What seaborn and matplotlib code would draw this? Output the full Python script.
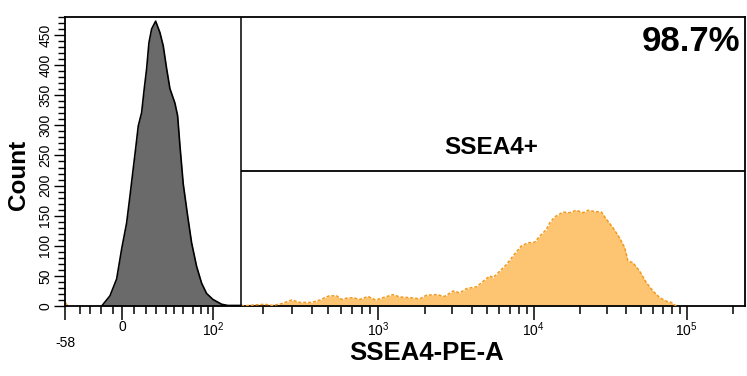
import numpy as np
import matplotlib
matplotlib.use("Agg")
import matplotlib.pyplot as plt
import seaborn as sns

# ---------------- data ----------------
gray_x = [-19.4, -12.5, -5.9, -0.3, 3.9, 6.7, 9.4, 11.4, 13.6, 16.4, 18.6, 20.7, 23.0,
          25.7, 29.7, 34.0, 37.3, 40.9, 45.0, 51.1, 54.1, 56.7, 60.3, 64.7, 68.7, 74.6,
          81.0, 88.1, 100.0, 113.0, 123.0, 150.0]
gray_count = [0, 17, 45, 95, 138, 183, 228, 261, 299, 321, 361, 394, 437,
              460, 473, 454, 432, 394, 361, 337, 316, 266, 203, 150, 105, 66,
              38, 21, 11, 3, 1, 1]

orange_x = [148, 156, 180, 207, 231, 261, 300, 337, 396, 445, 507, 562, 603, 646, 708,
            778, 873, 972, 1081, 1254, 1383, 1604, 1859, 2052, 2379, 2687, 3039, 3356,
            3707, 4298, 4735, 5227, 5495, 6058, 6686, 7370, 8337, 9190, 10150, 10940,
            12100, 12730, 13720, 15560, 17200, 19010, 21000, 22650, 25050, 27720, 29880,
            32990, 36480, 39340, 41320, 44560, 49290, 54480, 60230, 66620, 73640, 79430,
            85570]
orange_count = [0, 0.5, 2, 3, 1, 4, 10, 6, 6, 10, 17, 17, 11, 13, 14,
                11, 16, 10, 14, 19, 15, 14, 12, 18, 19, 16, 25, 22,
                29, 32, 41, 50, 47, 58, 69, 83, 100, 105, 106, 116,
                127, 138, 148, 156, 155, 159, 155, 159, 157, 156, 144,
                130, 113, 97, 75, 72, 58, 39, 25, 14, 8, 6,
                0]

edge_x = [-58, -56, -54]
edge_count = [8, 5, 0]

gate_x = 148
gate_y = 224
gate_label = "SSEA4+"
gate_pct = "98.7%"

x_major = [-58, 0, 100, 1e3, 1e4, 1e5]
x_major_labels = ["\n-58", "0", r"$10^2$", r"$10^3$", r"$10^4$", r"$10^5$"]
x_minor = ([-40, -30, -20, -10] + list(range(10, 100, 10)) +
           [m * d for d in (100, 1000, 10000) for m in range(2, 10)] + [2e5])
y_major = list(range(0, 451, 50))
y_minor = list(range(0, 481, 10))

# ---------------- biexponential-like display scale ----------------
LIN_V = np.array([-58, -40, -30, -20, -10, 0, 10, 20, 30, 40, 50, 60, 70, 80, 90, 100], float)
LIN_P = np.array([0, 15, 25, 36, 48, 57, 69, 81, 91, 101, 109, 118, 128, 136, 143, 148], float)
LOG_D = np.array([2, 3, 4, 5], float)
LOG_P = np.array([148, 313, 469, 622], float)
S0 = (LIN_P[1] - LIN_P[0]) / (LIN_V[1] - LIN_V[0])
S1 = 153.0


def fwd(v):
    v = np.asarray(v, dtype=float)
    lin = np.interp(v, LIN_V, LIN_P)
    lin = np.where(v < LIN_V[0], LIN_P[0] + (v - LIN_V[0]) * S0, lin)
    with np.errstate(all="ignore"):
        lv = np.log10(np.clip(v, 100, None))
    lg = np.interp(lv, LOG_D, LOG_P)
    lg = np.where(lv > LOG_D[-1], LOG_P[-1] + (lv - LOG_D[-1]) * S1, lg)
    return np.where(v <= 100, lin, lg)


def inv(p):
    p = np.asarray(p, dtype=float)
    lin = np.interp(p, LIN_P, LIN_V)
    lin = np.where(p < LIN_P[0], LIN_V[0] + (p - LIN_P[0]) / S0, lin)
    ld = np.interp(p, LOG_P, LOG_D)
    ld = np.where(p > LOG_P[-1], LOG_D[-1] + (p - LOG_P[-1]) / S1, ld)
    with np.errstate(all="ignore"):
        lg = 10.0 ** np.clip(ld, -10, 12)
    return np.where(p <= LOG_P[0], lin, lg)


# ---------------- drawing ----------------
sns.set_theme(style="white")
plt.rcParams["font.family"] = ["Liberation Sans", "DejaVu Sans"]
plt.rcParams["mathtext.fontset"] = "custom"
plt.rcParams["mathtext.rm"] = "Liberation Sans"
plt.rcParams["mathtext.it"] = "Liberation Sans"
for key in ("text.color", "axes.labelcolor", "xtick.color", "ytick.color"):
    plt.rcParams[key] = "black"

fig = plt.figure(figsize=(7.47, 3.76), dpi=100)
ax = fig.add_axes([0.087, 0.186, 0.910, 0.769])
ax.set_xscale("function", functions=(fwd, inv))

ax.fill_between(gray_x, gray_count, 0, color="#6a6a6a", linewidth=0, zorder=2)
sns.lineplot(x=gray_x, y=gray_count, color="black", linewidth=1.2, ax=ax,
             estimator=None, sort=False, zorder=3)

ax.fill_between(orange_x, orange_count, 0, color="#fdc572", linewidth=0, zorder=2)
sns.lineplot(x=orange_x, y=orange_count, color="#f39a1e", linewidth=1.1,
             linestyle=(0, (2, 1.2)), ax=ax, estimator=None, sort=False, zorder=3)
ax.fill_between(edge_x, edge_count, 0, color="#f7a21b", linewidth=0, zorder=2)

ax.axvline(gate_x, color="black", linewidth=1.1, zorder=4)
ax.hlines(gate_y, gate_x, 2.4e5, color="black", linewidth=1.3, zorder=4)
ax.text(5300, 264, gate_label, ha="center", va="center", fontsize=17.5,
        fontweight="bold", zorder=5)
ax.text(0.994, 0.915, gate_pct, transform=ax.transAxes, ha="right", va="center",
        fontsize=25, fontweight="bold", zorder=5)

ax.set_xlim(-58, 2.4e5)
ax.set_ylim(0, 480)

ax.set_xticks(x_major)
ax.set_xticklabels(x_major_labels)
ax.set_xticks(x_minor, minor=True)
ax.set_yticks(y_major)
ax.set_yticks(y_minor, minor=True)

ax.tick_params(axis="x", which="major", direction="out", length=10, width=1.1,
               color="black", labelsize=10, pad=0, bottom=True)
ax.tick_params(axis="x", which="minor", direction="out", length=6, width=1.1,
               color="black", bottom=True)
ax.tick_params(axis="y", which="major", direction="out", length=8, width=1.0,
               color="black", labelsize=10, pad=1, left=True, labelrotation=90)
ax.tick_params(axis="y", which="minor", direction="out", length=5, width=1.0,
               color="black", left=True)
for lab in ax.get_yticklabels():
    lab.set_va("center")

for sp in ax.spines.values():
    sp.set_visible(True)
    sp.set_color("black")
    sp.set_linewidth(1.3)

ax.set_xlabel("SSEA4-PE-A", fontsize=18.5, fontweight="bold")
ax.set_ylabel("Count", fontsize=17.5, fontweight="bold")
ax.xaxis.set_label_coords(0.532, -0.12)
ax.yaxis.set_label_coords(-0.052, 0.453)
ax.grid(False)

fig.savefig("out.png", dpi=100)
